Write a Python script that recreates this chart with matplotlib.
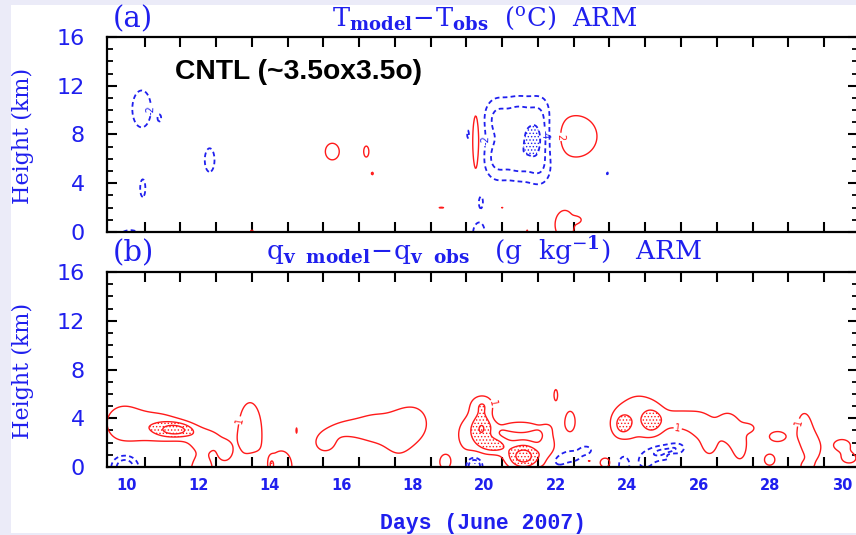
import numpy as np
import matplotlib
matplotlib.use('Agg')
import matplotlib.pyplot as plt
from matplotlib.patches import Rectangle
from matplotlib.ticker import FixedLocator, MultipleLocator

# blobs: centre day, centre height (km), half widths, amplitude (deg C)
t_day = [10.42, 10.92, 12.32, 10.45, 10.1, 13.5, 15.75, 16.7, 16.87, 19.77, 19.55,
         20.35, 20.95, 21.55, 20.35, 20.95, 21.55, 21.45, 22.55, 23.44, 19.9, 18.8,
         20.5, 19.85, 21.2, 22.25, 22.6]
t_km = [10.1, 9.35, 5.9, 3.6, -0.3, 0.05, 6.6, 6.6, 4.8, 7.4, 8.0,
        6.0, 6.0, 5.6, 9.3, 9.4, 9.5, 7.6, 7.85, 4.8, 2.5, 2.0,
        2.0, -0.1, 0.1, 0.6, 1.0]
t_sx = [0.27, 0.05, 0.14, 0.08, 0.3, 0.05, 0.2, 0.08, 0.04, 0.09, 0.04,
        0.28, 0.28, 0.28, 0.28, 0.28, 0.28, 0.3, 0.6, 0.03, 0.07, 0.1,
        0.04, 0.2, 0.03, 0.3, 0.1]
t_sy = [1.56, 0.3, 1.0, 0.8, 0.5, 0.15, 0.7, 0.5, 0.15, 2.3, 0.5,
        1.3, 1.3, 1.3, 1.3, 1.3, 1.3, 1.0, 1.7, 0.25, 0.55, 0.06,
        0.05, 1.1, 0.1, 1.3, 0.2]
t_amp = [-3.2, -2.4, -3.2, -3.0, -3.0, 2.5, 3.2, 3.0, 2.5, 3.8, -2.6,
         -4.4, -4.4, -4.4, -4.2, -4.2, -4.2, -4.0, 3.3, -2.5, -2.7, 2.4,
         2.3, -2.8, 2.3, 3.0, 2.0]

# blobs (g/kg)
q_day = [9.9, 10.9, 11.4, 12.2, 12.75, 12.1, 13.45, 14.35, 14.05, 14.75,
         15.55, 16.2, 16.9, 17.6, 18.1, 18.9,
         19.55, 19.95, 20.3, 21.0, 21.8, 21.1, 19.95,
         22.0, 22.4, 22.93, 23.38,
         24.3, 23.85, 24.7, 25.5, 26.1, 26.3, 25.25,
         26.8, 27.15, 27.4, 28.2, 27.98,
         28.95, 29.2, 29.0, 30.0, 30.2,
         9.95, 13.55, 15.7, 17.1, 19.72, 22.0, 22.45, 22.85, 23.9, 24.5, 24.95, 25.4]
q_km = [3.6, 3.3, 3.05, 2.3, 1.2, -0.3, 2.95, 0.0, 0.2, 3.0,
        2.0, 3.2, 3.2, 2.6, 3.6, 0.4,
        2.6, 3.2, 1.8, 3.3, 1.6, 0.9, 5.2,
        5.9, 3.75, 0.5, 0.35,
        4.3, 3.45, 3.75, 3.9, 3.2, 1.8, 0.95,
        3.3, 1.8, 3.2, 2.5, 0.6,
        3.2, 1.5, 0.0, 1.8, 0.7,
        0.0, 0.0, -0.1, -0.1, 0.1, 0.5, 0.9, 1.4, 0.2, 0.5, 1.2, 1.6]
q_sx = [0.45, 0.5, 0.35, 0.4, 0.15, 0.3, 0.33, 0.3, 0.06, 0.02,
        0.3, 0.45, 0.4, 0.35, 0.35, 0.15,
        0.35, 0.22, 0.25, 0.55, 0.17, 0.35, 0.25,
        0.06, 0.15, 0.05, 0.15,
        0.55, 0.22, 0.22, 0.4, 0.3, 0.15, 0.12,
        0.25, 0.2, 0.15, 0.25, 0.16,
        0.2, 0.2, 0.15, 0.25, 0.2,
        0.26, 0.18, 0.08, 0.2, 0.15, 0.2, 0.25, 0.15, 0.17, 0.2, 0.3, 0.2]
q_sy = [1.35, 1.0, 0.45, 0.7, 0.6, 1.2, 2.4, 1.4, 0.4, 0.25,
        0.8, 0.6, 1.2, 1.7, 1.3, 0.6,
        1.5, 1.1, 0.5, 0.45, 1.3, 0.8, 0.6,
        0.55, 0.9, 0.05, 0.4,
        1.8, 0.8, 0.8, 0.7, 1.1, 0.7, 0.12,
        1.1, 1.3, 0.3, 0.45, 0.5,
        1.3, 1.0, 0.4, 0.5, 0.4,
        0.7, 0.6, 0.15, 0.15, 0.5, 0.45, 0.45, 0.3, 0.9, 0.6, 0.5, 0.35]
q_amp = [1.6, 1.6, 2.6, 1.5, 1.4, 1.6, 1.6, 1.5, 1.3, 1.3,
         1.4, 1.3, 1.25, 1.25, 1.25, 1.5,
         1.3, 2.2, 2.2, 1.4, 1.5, 3.6, 1.4,
         1.4, 1.5, 1.3, 1.5,
         1.4, 1.6, 1.6, 1.3, 1.3, 1.3, 1.4,
         1.5, 1.4, 1.3, 1.5, 1.5,
         1.5, 1.5, 1.3, 1.5, 1.5,
         -3.0, -1.5, -1.3, -1.3, -4.0, -1.5, -1.5, -1.4, -1.5, -1.5, -2.3, -1.4]

day_labels = [10, 12, 14, 16, 18, 20, 22, 24, 26, 28, 30]
km_labels = [0, 4, 8, 12, 16]

blue = '#1f1fee'
red = '#ff1a1a'
plt.rcParams['lines.dashed_pattern'] = [2.6, 1.8]
plt.rcParams['mathtext.fontset'] = 'dejavuserif'
plt.rcParams['hatch.linewidth'] = 0.6

x = np.linspace(9.3, 30.6, 853)
y = np.linspace(0, 16, 321)
X, Y = np.meshgrid(x, y)


def make_field(days, kms, sxs, sys_, amps):
    f = np.zeros_like(X)
    for d, h, a, b, v in zip(days, kms, sxs, sys_, amps):
        f += v * np.exp(-0.5 * ((X - d) / a) ** 2 - 0.5 * ((Y - h) / b) ** 2)
    return f


fig = plt.figure(figsize=(8.56, 5.35), dpi=100, facecolor='#ebebf8')
fig.patches.append(Rectangle((11 / 856, 1 - 533 / 535), 845 / 856, 528 / 535,
                             transform=fig.transFigure, facecolor='white',
                             edgecolor='none', zorder=-5))

ax_a = fig.add_axes([107 / 856, 1 - 232 / 535, 751 / 856, 195 / 535])
ax_b = fig.add_axes([107 / 856, 1 - 467 / 535, 751 / 856, 195 / 535])


def draw_panel(ax, F, neg, pos, hi, lo):
    plt.rcParams['hatch.color'] = red
    ax.contourf(X, Y, F, levels=[hi, 100], colors='none', hatches=['.....'])
    plt.rcParams['hatch.color'] = blue
    ax.contourf(X, Y, F, levels=[-100, lo], colors='none', hatches=['.....'])
    cn = ax.contour(X, Y, F, levels=neg, colors=blue, linewidths=1.3,
                    linestyles='dashed')
    cp = ax.contour(X, Y, F, levels=pos, colors=red, linewidths=1.0,
                    linestyles='solid')
    return cn, cp


def style_axes(ax, show_x):
    ax.set_xlim(9.45, 30.45)
    ax.set_ylim(0, 16)
    for s in ax.spines.values():
        s.set_linewidth(1.6)
    ax.set_xticks(day_labels)
    ax.xaxis.set_minor_locator(FixedLocator(np.arange(10.5, 30.0, 1.0)))
    ax.set_yticks(km_labels)
    ax.yaxis.set_minor_locator(MultipleLocator(1))
    ax.tick_params(axis='x', which='major', length=0, pad=8, labelsize=10.5,
                   labelcolor=blue, labelbottom=show_x)
    ax.tick_params(axis='x', which='minor', direction='in', length=7, width=1.5,
                   top=True, bottom=True)
    ax.tick_params(axis='y', which='major', direction='in', length=7, width=1.5,
                   left=True, right=True, pad=16, labelsize=16, labelcolor=blue)
    ax.tick_params(axis='y', which='minor', direction='in', length=4, width=1.3,
                   left=True, right=True)
    for lab in ax.get_xticklabels():
        lab.set_fontweight('bold')


Ta = make_field(t_day, t_km, t_sx, t_sy, t_amp)
cn, cp = draw_panel(ax_a, Ta, [-6, -4, -2], [2, 4, 6], 6, -6)
ax_a.clabel(cn, manual=[(10.55, 10.0), (20.15, 7.5), (21.75, 8.0)], fontsize=7, fmt='%d',
            inline_spacing=1)
ax_a.clabel(cp, manual=[(22.0, 7.8)], fontsize=7, fmt='%d', inline_spacing=1)
style_axes(ax_a, False)

Qb = make_field(q_day, q_km, q_sx, q_sy, q_amp)
cn, cp = draw_panel(ax_b, Qb, [-2, -1], [1, 2, 3], 2, -3.2)
ax_b.clabel(cp, manual=[(13.2, 3.8), (20.25, 5.2), (25.4, 3.0), (28.7, 3.7)],
            fontsize=7, fmt='%d', inline_spacing=1)
style_axes(ax_b, True)

fig.text(113 / 856, 1 - 27 / 535, '(a)', color=blue, fontsize=21, family='DejaVu Serif',
         va='baseline')
fig.text(485 / 856, 1 - 26 / 535,
         r'$\mathrm{T}_{\mathbf{model}}\!-\!\mathrm{T}_{\mathbf{obs}}\ \ (^{\mathrm{o}}\mathrm{C})\ \ \mathrm{ARM}$',
         color=blue, fontsize=18.5, ha='center', va='baseline')
fig.text(113 / 856, 1 - 261 / 535, '(b)', color=blue, fontsize=21, family='DejaVu Serif',
         va='baseline')
fig.text(484 / 856, 1 - 260 / 535,
         r'$\mathrm{q}_{\mathbf{v\ \ model}}\!-\!\mathrm{q}_{\mathbf{v\ \ obs}}\ \ \ (\mathrm{g\ \ kg}^{-\mathbf{1}})\ \ \ \mathrm{ARM}$',
         color=blue, fontsize=19, ha='center', va='baseline')
for yc in [136, 371]:
    fig.text(23 / 856, 1 - yc / 535, 'Height (km)', color=blue, fontsize=16,
             family='DejaVu Serif', rotation=90, ha='center', va='center')
fig.text(483 / 856, 1 - 523 / 535, 'Days (June 2007)', color=blue, fontsize=15.5,
         family='Liberation Mono', fontweight='bold', ha='center', va='center')
fig.text(175 / 856, 1 - 72 / 535, 'CNTL (~3.5ox3.5o)', color='black', fontsize=20.3,
         family='Liberation Sans', fontweight='bold', ha='left', va='center')

fig.savefig('out.png', dpi=100, facecolor=fig.get_facecolor())
